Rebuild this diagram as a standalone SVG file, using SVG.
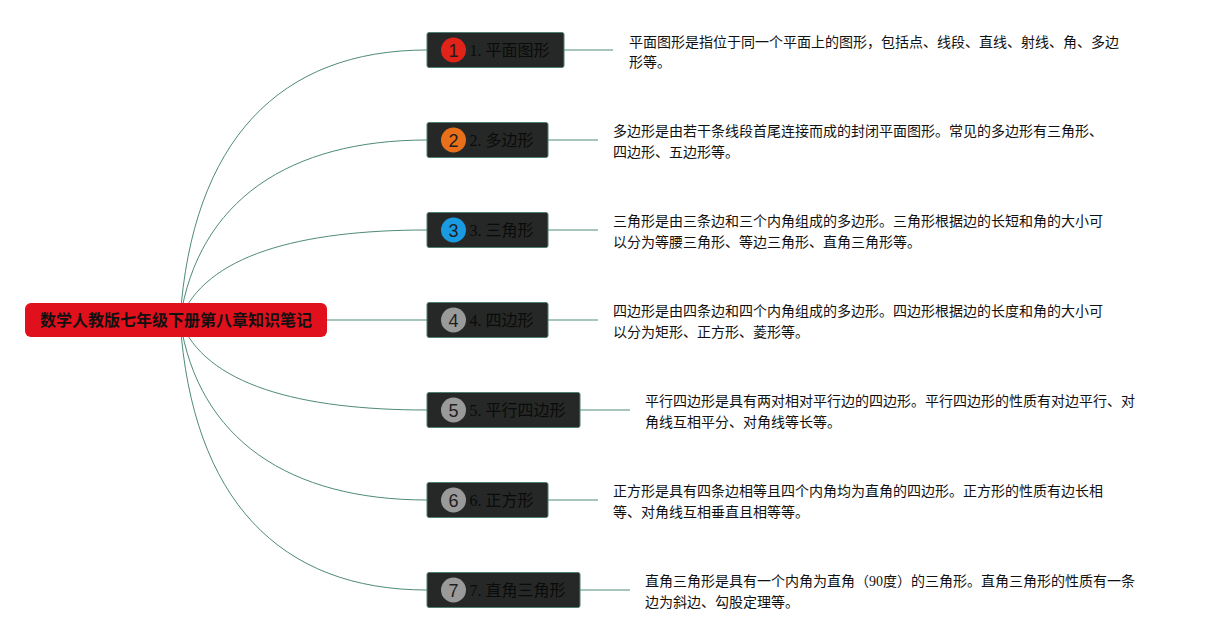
<svg xmlns="http://www.w3.org/2000/svg" width="1205" height="640" viewBox="0 0 1205 640">
<style>
.curve{fill:none;stroke:#4f8a78;stroke-width:1}
.line{fill:none;stroke:#a6c6ba;stroke-width:2}
.topic{fill:#252826;stroke:#4f7f70;stroke-width:1}
.label{font-family:"Liberation Serif","Noto Sans CJK SC",serif;font-size:16px;fill:#0b0b0b}
.num{font-family:"Liberation Sans","Noto Sans CJK SC",sans-serif;font-size:18px;fill:#1e1e1e;text-anchor:middle}
.desc{font-family:"Liberation Serif","Noto Sans CJK SC",sans-serif;font-size:14px;fill:#111}
.root-t{font-family:"Noto Sans CJK SC",sans-serif;font-size:16px;font-weight:bold;fill:#111;text-anchor:middle}
</style>
<rect width="1205" height="640" fill="#ffffff"/>
<g id="connectors">
<path class="curve" d="M180,320 C192,140 280,50 427,50"/>
<path class="curve" d="M180,320 C198,200 290,140 427,140"/>
<path class="curve" d="M180,320 C205,255 300,230 427,230"/>
<path class="line" d="M327,320 L427,320"/>
<path class="curve" d="M180,320 C205,385 300,410 427,410"/>
<path class="curve" d="M180,320 C198,440 290,500 427,500"/>
<path class="curve" d="M180,320 C192,500 280,590 427,590"/>
<path class="line" d="M564,50 L613,50"/>
<path class="line" d="M548,140 L598,140"/>
<path class="line" d="M548,230 L598,230"/>
<path class="line" d="M548,320 L598,320"/>
<path class="line" d="M580,410 L630,410"/>
<path class="line" d="M548,500 L598,500"/>
<path class="line" d="M580,590 L630,590"/>
</g>
<g id="root">
<rect x="25" y="303" width="302" height="34" rx="6" fill="#e0101c"/>
<text class="root-t" x="176" y="326">数学人教版七年级下册第八章知识笔记</text>
</g>
<g id="node1">
<rect class="topic" x="427" y="32.5" width="137" height="35" rx="2"/>
<circle cx="453.5" cy="50" r="12.5" fill="#e2231a"/>
<text class="num" x="453.5" y="56.5">1</text>
<text class="label" x="469.5" y="56">1. 平面图形</text>
<text class="desc" x="629" y="47">平面图形是指位于同一个平面上的图形，包括点、线段、直线、射线、角、多边</text>
<text class="desc" x="629" y="67">形等。</text>
</g>
<g id="node2">
<rect class="topic" x="427" y="122.5" width="121" height="35" rx="2"/>
<circle cx="453.5" cy="140" r="12.5" fill="#e8701a"/>
<text class="num" x="453.5" y="146.5">2</text>
<text class="label" x="469.5" y="146">2. 多边形</text>
<text class="desc" x="613" y="136">多边形是由若干条线段首尾连接而成的封闭平面图形。常见的多边形有三角形、</text>
<text class="desc" x="613" y="157">四边形、五边形等。</text>
</g>
<g id="node3">
<rect class="topic" x="427" y="212.5" width="121" height="35" rx="2"/>
<circle cx="453.5" cy="230" r="12.5" fill="#1a9ae0"/>
<text class="num" x="453.5" y="236.5">3</text>
<text class="label" x="469.5" y="236">3. 三角形</text>
<text class="desc" x="613" y="226">三角形是由三条边和三个内角组成的多边形。三角形根据边的长短和角的大小可</text>
<text class="desc" x="613" y="247">以分为等腰三角形、等边三角形、直角三角形等。</text>
</g>
<g id="node4">
<rect class="topic" x="427" y="302.5" width="121" height="35" rx="2"/>
<circle cx="453.5" cy="320" r="12.5" fill="#9a9a9a"/>
<text class="num" x="453.5" y="326.5">4</text>
<text class="label" x="469.5" y="326">4. 四边形</text>
<text class="desc" x="613" y="316">四边形是由四条边和四个内角组成的多边形。四边形根据边的长度和角的大小可</text>
<text class="desc" x="613" y="337">以分为矩形、正方形、菱形等。</text>
</g>
<g id="node5">
<rect class="topic" x="427" y="392.5" width="153" height="35" rx="2"/>
<circle cx="453.5" cy="410" r="12.5" fill="#9a9a9a"/>
<text class="num" x="453.5" y="416.5">5</text>
<text class="label" x="469.5" y="416">5. 平行四边形</text>
<text class="desc" x="645" y="406">平行四边形是具有两对相对平行边的四边形。平行四边形的性质有对边平行、对</text>
<text class="desc" x="645" y="427">角线互相平分、对角线等长等。</text>
</g>
<g id="node6">
<rect class="topic" x="427" y="482.5" width="121" height="35" rx="2"/>
<circle cx="453.5" cy="500" r="12.5" fill="#9a9a9a"/>
<text class="num" x="453.5" y="506.5">6</text>
<text class="label" x="469.5" y="506">6. 正方形</text>
<text class="desc" x="613" y="496">正方形是具有四条边相等且四个内角均为直角的四边形。正方形的性质有边长相</text>
<text class="desc" x="613" y="517">等、对角线互相垂直且相等等。</text>
</g>
<g id="node7">
<rect class="topic" x="427" y="572.5" width="153" height="35" rx="2"/>
<circle cx="453.5" cy="590" r="12.5" fill="#9a9a9a"/>
<text class="num" x="453.5" y="596.5">7</text>
<text class="label" x="469.5" y="596">7. 直角三角形</text>
<text class="desc" x="645" y="586">直角三角形是具有一个内角为直角（90度）的三角形。直角三角形的性质有一条</text>
<text class="desc" x="645" y="607">边为斜边、勾股定理等。</text>
</g>
</svg>
